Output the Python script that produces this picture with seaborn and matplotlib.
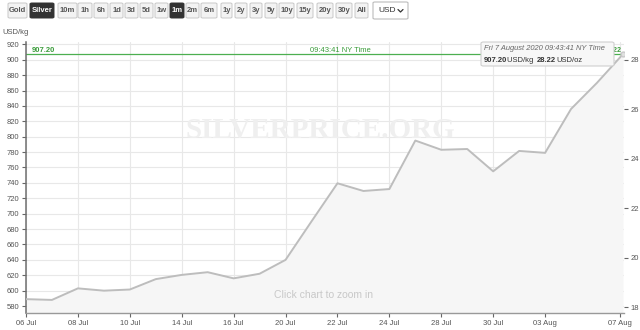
import numpy as np
import pandas as pd
import seaborn as sns
import matplotlib
matplotlib.use("Agg")
import matplotlib.pyplot as plt
from matplotlib.patches import FancyBboxPatch
from matplotlib.lines import Line2D
from matplotlib.transforms import Bbox

# ---------------- data ----------------
dates = ["06 Jul", "07 Jul", "08 Jul", "09 Jul", "10 Jul", "13 Jul", "14 Jul", "15 Jul",
         "16 Jul", "17 Jul", "20 Jul", "21 Jul", "22 Jul", "23 Jul", "24 Jul", "27 Jul",
         "28 Jul", "29 Jul", "30 Jul", "31 Jul", "03 Aug", "04 Aug", "05 Aug", "07 Aug"]
usd_per_kg = [589, 588, 603, 600, 601.5, 615, 620.5, 624, 616, 622, 640, 690, 739.5, 729.5,
              732, 795, 783, 784, 755, 781.5, 779, 836, 870, 907.2]
tick_labels = ["06 Jul", "08 Jul", "10 Jul", "14 Jul", "16 Jul", "20 Jul", "22 Jul",
               "24 Jul", "28 Jul", "30 Jul", "03 Aug", "07 Aug"]
left_ticks = list(range(580, 921, 20))
right_ticks = [18, 20, 22, 24, 26, 28]
current_kg = 907.20
current_oz = 28.22
KG_PER_OZ = 32.1507466
buttons = ["Gold", "Silver", "10m", "1h", "6h", "1d", "3d", "5d", "1w", "1m", "2m", "6m",
           "1y", "2y", "3y", "5y", "10y", "15y", "20y", "30y", "All"]
selected = ["Silver", "1m"]

df = pd.DataFrame({"i": np.arange(len(dates)), "price": usd_per_kg, "date": dates})

sns.set_theme(style="white")
plt.rcParams["font.family"] = ["DejaVu Sans"]

W, H = 640, 330
fig = plt.figure(figsize=(6.4, 3.3), dpi=100)
fig.patch.set_facecolor("white")

def fx(px):
    return px / W

def fy(py):
    return 1 - py / H

ax = fig.add_axes([fx(26), fy(313), fx(624) - fx(26), fy(42) - fy(313)])
ax.set_facecolor("white")

ymin, ymax = 571, 923
ax.set_ylim(ymin, ymax)
xmax = len(dates) - 1
ax.set_xlim(0, xmax + 0.04)

# tick positions (07 Aug tick sits slightly before the last intraday point)
tick_pos = []
for t in tick_labels:
    k = dates.index(t)
    tick_pos.append(k - 0.12 if k == xmax else k)

# grid
for yv in left_ticks:
    ax.axhline(yv, color="#e8e8e8", lw=0.8, zorder=0)
for xv in tick_pos:
    ax.axvline(xv, color="#e8e8e8", lw=0.8, zorder=0)

# area + line
ax.fill_between(df["i"], df["price"], ymin, color="#f6f6f6", zorder=1, lw=0)
sns.lineplot(data=df, x="i", y="price", ax=ax, color="#bdbdbd", lw=1.4, zorder=3)
ax.plot([df["i"].iloc[-1]], [df["price"].iloc[-1]], marker="o", ms=3.5,
        mfc="#e0e0e0", mec="#c8c8c8", zorder=4)

# current price line
ax.axhline(current_kg, color="#4caf50", lw=0.9, zorder=2)

ax.set_xticks(tick_pos)
ax.set_xticklabels(tick_labels, fontsize=5.5, color="#555555", family="Liberation Sans")
ax.set_yticks(left_ticks)
ax.set_yticklabels([str(v) for v in left_ticks], fontsize=5.5, color="#555555",
                   family="Liberation Sans")
ax.tick_params(axis="both", which="both", length=3, width=0.8, color="#666666", pad=2,
               left=True, bottom=True)
ax.set_xlabel("")
ax.set_ylabel("")
for s in ["top", "right"]:
    ax.spines[s].set_visible(False)
ax.spines["left"].set_color("#6f6f6f")
ax.spines["left"].set_linewidth(1.1)
ax.spines["bottom"].set_color("#999999")
ax.spines["bottom"].set_linewidth(1.0)

# right axis in USD/oz
ax2 = ax.twinx()
ax2.set_ylim(ymin / KG_PER_OZ, ymax / KG_PER_OZ)
ax2.set_yticks(right_ticks)
ax2.set_yticklabels([str(v) for v in right_ticks], fontsize=5.5, color="#555555",
                    family="Liberation Sans")
ax2.tick_params(axis="y", length=3, width=0.8, color="#666666", pad=2, right=True)
for s in ax2.spines.values():
    s.set_visible(False)
ax2.grid(False)

# watermark & hint
fig.text(fx(320), fy(130), "SILVERPRICE.ORG", family="Liberation Serif", weight="bold",
         fontsize=21, color="#efefef", ha="center", va="center", zorder=0.5)
fig.text(fx(323), fy(295), "Click chart to zoom in", family="Liberation Sans",
         fontsize=7.5, color="#c8c8c8", ha="center", va="center")

# labels
fig.text(fx(2), fy(33), "USD/kg", fontsize=5.5, color="#555555", family="Liberation Sans",
         va="center", ha="left")
fig.text(fx(32), fy(50), f"{current_kg:.2f}", fontsize=5.5, color="#3a9c3a",
         weight="bold", family="Liberation Sans", va="center", ha="left")
fig.text(fx(340), fy(50), "09:43:41 NY Time", fontsize=5.5, color="#3a9c3a",
         family="Liberation Sans", va="center", ha="center")
g = fig.text(fx(622), fy(50), f"{current_oz:.2f}", fontsize=5.0, color="#3a9c3a",
             weight="bold", family="Liberation Sans", va="center", ha="right", zorder=5)

# tooltip
tip = FancyBboxPatch((fx(481), fy(66)), fx(614) - fx(481), fy(42) - fy(66),
                     boxstyle="round,pad=0,rounding_size=0.004",
                     transform=fig.transFigure, facecolor="#f7f7f7", edgecolor="#cfcfcf",
                     lw=0.8, zorder=10)
fig.add_artist(tip)
fig.text(fx(484), fy(48.5), "Fri 7 August 2020 09:43:41 NY Time", fontsize=5.4,
         style="italic", color="#666666", family="Liberation Sans", va="center",
         ha="left", zorder=11)

fig.canvas.draw()
renderer = fig.canvas.get_renderer()
xcur = 484
for txt, wt in [(f"{current_kg:.2f}", "bold"), ("USD/kg ", "normal"),
                (f"{current_oz:.2f}", "bold"), ("USD/oz", "normal")]:
    t = fig.text(fx(xcur), fy(60), txt, fontsize=5.5, weight=wt, color="#333333",
                 family="Liberation Sans", va="center", ha="left", zorder=11)
    bb = t.get_window_extent(renderer=renderer)
    xcur += bb.width + (1.2 if txt.endswith(" ") else 0)

# toolbar buttons
btn_x = [(8, 27), (30, 54), (58, 77), (78, 92), (94, 108), (110, 123), (125, 138),
         (140, 153), (155, 168), (170, 184), (186, 199), (201, 217), (221, 232),
         (235, 247), (250, 262), (265, 277), (279, 294), (297, 313), (317, 333),
         (336, 352), (355, 368)]
for name, (x0, x1) in zip(buttons, btn_x):
    sel = name in selected
    p = FancyBboxPatch((fx(x0), fy(18)), fx(x1) - fx(x0), fy(3) - fy(18),
                       boxstyle="round,pad=0,rounding_size=0.003", transform=fig.transFigure,
                       facecolor="#333333" if sel else "#f3f3f3",
                       edgecolor="#333333" if sel else "#c8c8c8", lw=0.7)
    fig.add_artist(p)
    fig.text(fx((x0 + x1) / 2), fy(10.5), name, fontsize=5.5, weight="bold",
             color="white" if sel else "#555555", family="Liberation Sans",
             ha="center", va="center")

# currency dropdown
dd = FancyBboxPatch((fx(373), fy(19)), fx(408) - fx(373), fy(2) - fy(19),
                    boxstyle="round,pad=0,rounding_size=0.003", transform=fig.transFigure,
                    facecolor="white", edgecolor="#bbbbbb", lw=0.8)
fig.add_artist(dd)
fig.text(fx(378), fy(10.5), "USD", fontsize=6, color="#333333", family="Liberation Sans",
         ha="left", va="center")
fig.add_artist(Line2D([fx(398), fx(400.5), fx(403)], [fy(9.5), fy(12), fy(9.5)],
                      transform=fig.transFigure, color="#333333", lw=0.9))

fig.savefig("out.png", dpi=100, facecolor="white")
